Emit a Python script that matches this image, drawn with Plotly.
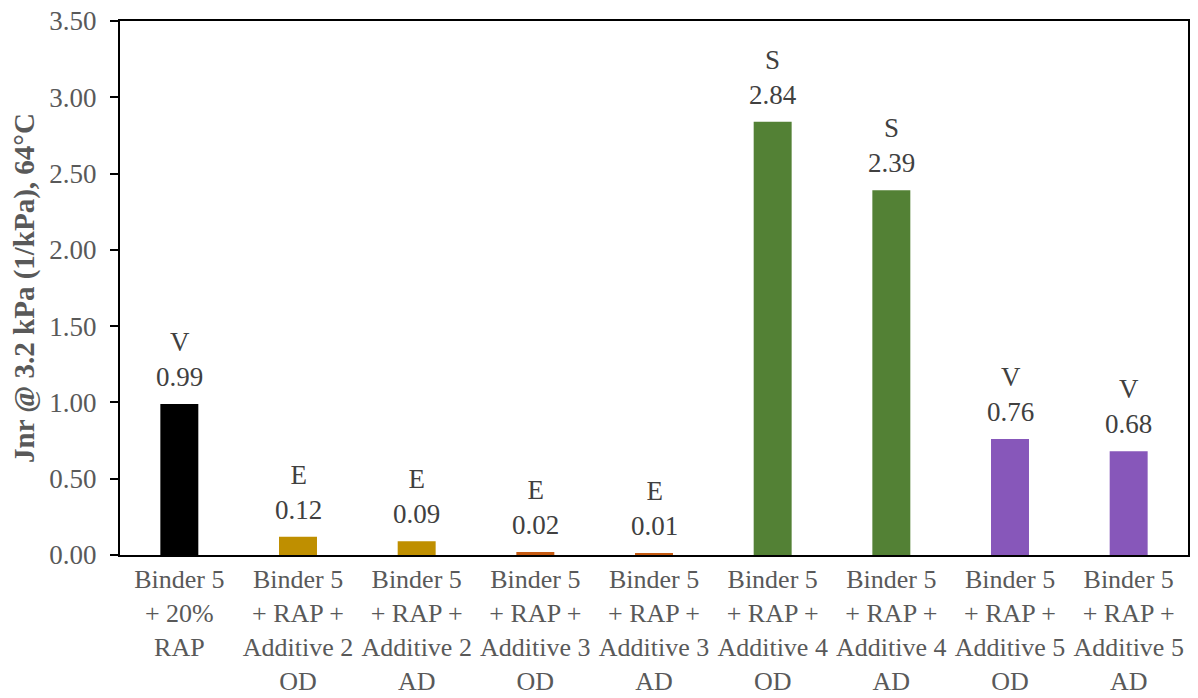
import plotly.graph_objects as go

categories = [
    "Binder 5<br>+ 20%<br>RAP",
    "Binder 5<br>+ RAP +<br>Additive 2<br>OD",
    "Binder 5<br>+ RAP +<br>Additive 2<br>AD",
    "Binder 5<br>+ RAP +<br>Additive 3<br>OD",
    "Binder 5<br>+ RAP +<br>Additive 3<br>AD",
    "Binder 5<br>+ RAP +<br>Additive 4<br>OD",
    "Binder 5<br>+ RAP +<br>Additive 4<br>AD",
    "Binder 5<br>+ RAP +<br>Additive 5<br>OD",
    "Binder 5<br>+ RAP +<br>Additive 5<br>AD",
]
jnr_values = [0.99, 0.12, 0.09, 0.02, 0.01, 2.84, 2.39, 0.76, 0.68]
grades = ["V", "E", "E", "E", "E", "S", "S", "V", "V"]
bar_colors = ["#000000", "#BF8F00", "#BF8F00", "#C55A11", "#C55A11",
              "#538135", "#538135", "#8757BA", "#8757BA"]

FONT = "Times New Roman, Liberation Serif, serif"
GRAY = "#595959"
FS = 27

fig = go.Figure(go.Bar(
    x=categories, y=jnr_values,
    marker=dict(color=bar_colors, line=dict(width=0)),
    width=0.32,
    hoverinfo="skip",
))

for cat, v, g in zip(categories, jnr_values, grades):
    fig.add_annotation(
        x=cat, y=v, text=f"{g}<br>{v:.2f}", showarrow=False,
        yanchor="bottom", yshift=10,
        font=dict(family=FONT, size=FS, color="#404040"),
    )

# page body has an 8px default margin, so the figure is drawn 8px smaller
fig.update_layout(
    width=1190, height=690,
    margin=dict(l=112, r=10, t=13, b=143, autoexpand=False),
    paper_bgcolor="white", plot_bgcolor="white",
    font=dict(family=FONT, size=FS, color=GRAY),
    showlegend=False,
)
fig.update_yaxes(
    range=[0, 3.5], dtick=0.5, tickformat=".2f",
    showgrid=False, zeroline=False,
    showline=True, linecolor="black", linewidth=2, mirror=True,
    ticks="outside", ticklen=8, tickcolor="black", tickwidth=2,
    tickfont=dict(family=FONT, size=FS, color=GRAY),
    ticklabelstandoff=8, ticklabeloverflow="allow",
    title=dict(text="<b>Jnr @ 3.2 kPa (1/kPa), 64°C</b>",
               font=dict(family=FONT, size=29, color=GRAY), standoff=12),
)
fig.update_xaxes(
    showgrid=False, showline=True, linecolor="black", linewidth=2, mirror=True,
    ticks="", tickfont=dict(family=FONT, size=26, color=GRAY),
    ticklabelstandoff=0, tickangle=0, ticklabeloverflow="allow",
)

fig.write_html("out.html")
